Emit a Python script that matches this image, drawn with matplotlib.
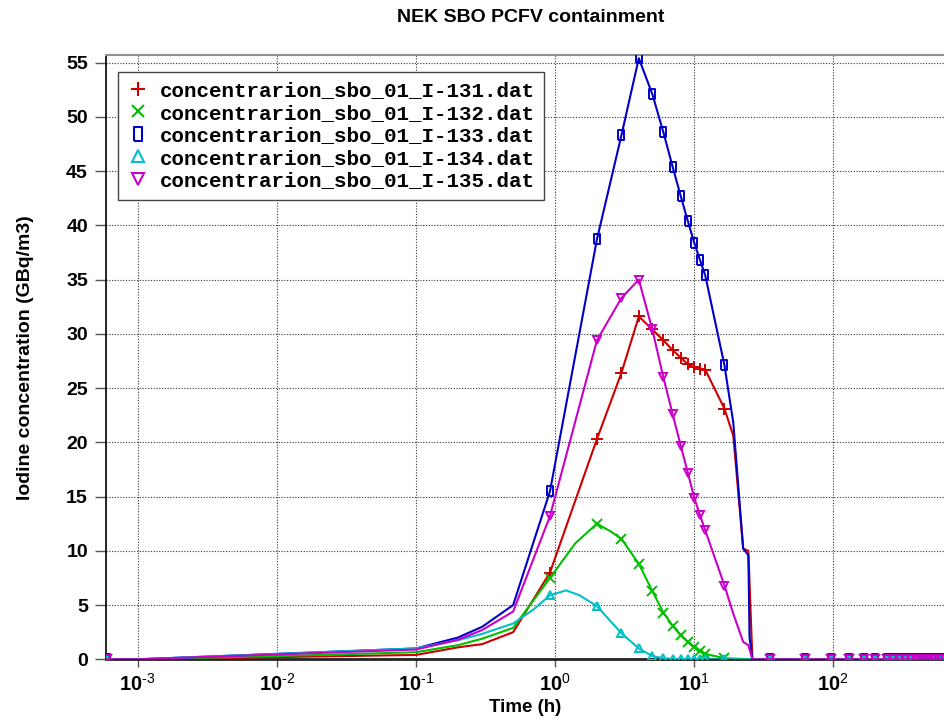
import numpy as np
import matplotlib
matplotlib.use("Agg")
import matplotlib.pyplot as plt
from matplotlib.lines import Line2D
from matplotlib import font_manager as fm
from matplotlib.ticker import FixedLocator, FixedFormatter

# ---------------- data ----------------
labels = ["concentrarion_sbo_01_I-131.dat", "concentrarion_sbo_01_I-132.dat",
          "concentrarion_sbo_01_I-133.dat", "concentrarion_sbo_01_I-134.dat",
          "concentrarion_sbo_01_I-135.dat"]

t_i131 = [6e-4, 1e-3, 1e-2, 0.1, 0.2, 0.3, 0.5, 0.92, 2, 3, 4, 5, 6, 7, 8, 9, 10, 11, 12, 16.5, 19.1, 22.5, 24.5, 26.2]
v_i131 = [0, 0, 0.2, 0.4, 1.1, 1.4, 2.5, 8.0, 20.3, 26.4, 31.6, 30.4, 29.4, 28.5, 27.8, 27.2, 26.9, 26.8, 26.7, 23.1, 20.6, 10.2, 10.0, 0]

t_i132 = [6e-4, 1e-3, 1e-2, 0.1, 0.2, 0.3, 0.5, 0.92, 1.4, 2, 2.5, 3, 4, 5, 6, 7, 8, 9, 10, 11, 12, 16.5, 26.2]
v_i132 = [0, 0, 0.3, 0.65, 1.3, 1.9, 2.9, 7.5, 10.7, 12.5, 11.8, 11.1, 8.8, 6.3, 4.3, 3.1, 2.2, 1.6, 1.1, 0.8, 0.5, 0.1, 0]

t_i133 = [6e-4, 1e-3, 1e-2, 0.1, 0.2, 0.3, 0.5, 0.92, 2, 3, 4, 5, 6, 7, 8, 9, 10, 11, 12, 16.5, 19.1, 22.5, 24.5, 25.0, 26.2]
v_i133 = [0, 0, 0.5, 1.0, 2.0, 3.0, 5.0, 15.5, 38.7, 48.3, 55.4, 52.1, 48.6, 45.4, 42.7, 40.4, 38.4, 36.8, 35.4, 27.1, 21.8, 10.2, 9.6, 2.0, 0]

t_i134 = [6e-4, 1e-3, 1e-2, 0.1, 0.2, 0.3, 0.5, 0.7, 0.92, 1.2, 1.5, 2, 3, 4, 5, 6, 7, 8, 9, 10, 11, 12, 16.5, 26.2]
v_i134 = [0, 0, 0.5, 1.0, 1.75, 2.35, 3.3, 4.6, 5.9, 6.35, 5.9, 4.9, 2.4, 1.0, 0.3, 0.1, 0.05, 0.03, 0.02, 0.01, 0, 0, 0, 0]

t_i135 = [6e-4, 1e-3, 1e-2, 0.1, 0.2, 0.3, 0.5, 0.92, 2, 3, 4, 5, 6, 7, 8, 9, 10, 11, 12, 16.5, 19.1, 22.5, 24.5, 26.2]
v_i135 = [0, 0, 0.45, 0.9, 1.8, 2.7, 4.4, 13.2, 29.4, 33.3, 35.0, 30.4, 26.0, 22.6, 19.7, 17.2, 14.9, 13.3, 11.9, 6.8, 4.2, 1.6, 1.3, 0]

# late output times, concentration zero for all isotopes
tail_h = [35, 63, 97, 130, 165, 200, 243, 270, 300, 330, 360, 390, 420, 450, 480, 510, 540, 570, 600]
tail_v = [0] * len(tail_h)

# output times at which the plot places symbols
marker_times = [6e-4, 0.92, 2, 3, 4, 5, 6, 7, 8, 9, 10, 11, 12, 16.5] + tail_h

ytick_vals = [0, 5, 10, 15, 20, 25, 30, 35, 40, 45, 50, 55]
xtick_exps = [-3, -2, -1, 0, 1, 2]

# ---------------- style ----------------
installed = {f.name for f in fm.fontManager.ttflist}
sans = "Liberation Sans" if "Liberation Sans" in installed else "DejaVu Sans"
mono = "Liberation Mono" if "Liberation Mono" in installed else "DejaVu Sans Mono"

plt.rcParams["font.family"] = [sans, "DejaVu Sans"]
plt.rcParams["mathtext.fontset"] = "custom"
plt.rcParams["mathtext.rm"] = sans
plt.rcParams["mathtext.bf"] = sans + ":bold"
plt.rcParams["mathtext.default"] = "bf"

red = "#cc0000"
green = "#00c000"
blue = "#0000c8"
cyan = "#00c0c8"
magenta = "#c800c8"

rect = [(-0.6, -1), (0.6, -1), (0.6, 1), (-0.6, 1), (-0.6, -1)]
styles = [
    (t_i131, v_i131, red, "+", 8),
    (t_i132, v_i132, green, "x", 6.5),
    (t_i133, v_i133, blue, rect, 7.5),
    (t_i134, v_i134, cyan, "^", 6),
    (t_i135, v_i135, magenta, "v", 6),
]

fig = plt.figure(figsize=(9.44, 7.26), dpi=100)
ax = fig.add_axes([106 / 944, 1 - 659.3 / 726, 1 - 106 / 944, (659.3 - 55) / 726])

for t, v, c, m, ms in styles:
    tt = np.array(list(t) + tail_h, dtype=float)
    vv = np.array(list(v) + tail_v, dtype=float)
    mask = np.isin(np.round(tt, 6), np.round(np.array(marker_times, dtype=float), 6))
    ax.plot(tt, vv, color=c, lw=1.5, marker=m, markersize=ms, markevery=list(np.where(mask)[0]),
            markerfacecolor="none", markeredgecolor=c, markeredgewidth=1.4, zorder=3)

ax.set_xscale("log")
ax.set_xlim(10 ** (-3 - 31.6 / 139.2), 10 ** (2 + 110.7 / 139.2))
ax.set_ylim(0, 55.7)

ax.xaxis.set_major_locator(FixedLocator([10.0 ** e for e in xtick_exps]))
ax.xaxis.set_major_formatter(FixedFormatter([r"$\mathbf{10^{\text{%d}}}$" % e for e in xtick_exps]))
ax.xaxis.set_minor_locator(FixedLocator([]))
ax.set_yticks(ytick_vals)
ax.set_yticklabels([str(y) for y in ytick_vals])

ax.tick_params(axis="both", direction="out", color="#555555", width=1.0)
ax.tick_params(axis="x", length=6, pad=4, labelsize=14.5)
ax.tick_params(axis="y", length=8, pad=5, labelsize=14)
for lab in ax.get_xticklabels() + ax.get_yticklabels():
    lab.set_fontweight("bold")

ax.grid(True, which="major", color="#333333", linestyle=(0, (1, 1.5)), linewidth=0.8)
ax.set_axisbelow(True)

ax.spines["right"].set_visible(False)
ax.spines["top"].set_color("#909090")
ax.spines["top"].set_linewidth(1.5)
ax.spines["left"].set_color("black")
ax.spines["left"].set_linewidth(1.2)
ax.spines["bottom"].set_color("#222222")
ax.spines["bottom"].set_linewidth(2.0)

ax.set_xlabel("Time (h)", fontsize=13.5, fontweight="bold", labelpad=3)
ax.set_ylabel("Iodine concentration (GBq/m3)", fontsize=14, fontweight="bold", labelpad=23)
fig.text(531 / 944, 1 - 17 / 726, "NEK SBO PCFV containment",
         ha="center", va="center", fontsize=14, fontweight="bold")

handles = [Line2D([], [], linestyle="none", marker=m, markersize=ms + 2, markerfacecolor="none",
                  markeredgecolor=c, markeredgewidth=1.5) for (t, v, c, m, ms) in styles]
leg = ax.legend(handles, labels, loc="upper left",
                bbox_to_anchor=((118 - 106) / 838, (659.3 - 71.7) / 604.3), borderaxespad=0,
                prop={"family": mono, "weight": "bold", "size": 15}, labelspacing=0.17,
                handlelength=1.0, handletextpad=0.55, borderpad=0.45, fancybox=False,
                framealpha=1, edgecolor="#444444")
leg.get_frame().set_linewidth(1.0)

fig.savefig("out.png", dpi=100)
